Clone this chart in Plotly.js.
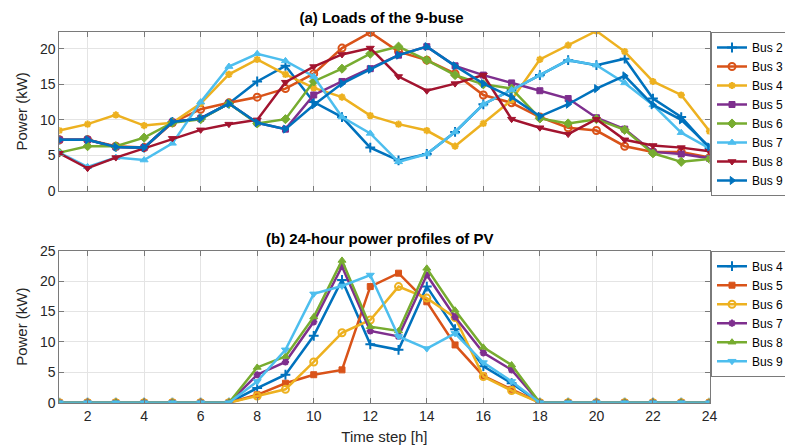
<!DOCTYPE html>
<html>
<head>
<meta charset="utf-8">
<script src="https://cdn.plot.ly/plotly-3.0.1.min.js"></script>
<style>html,body{margin:0;padding:0;background:#fff;overflow:hidden;}#wrap{width:785px;height:448px;overflow:hidden;}#chart{width:850px;height:448px;}</style>
</head>
<body>
<div id="wrap"><div id="chart"></div></div>
<script>
// ---- data ----
const hours = [1,2,3,4,5,6,7,8,9,10,11,12,13,14,15,16,17,18,19,20,21,22,23,24];
const xTickVals = [2,4,6,8,10,12,14,16,18,20,22,24];

const loadNames = ["Bus 2","Bus 3","Bus 4","Bus 5","Bus 6","Bus 7","Bus 8","Bus 9"];
const bus2Load = [7.2,7.2,6.2,6.1,9.7,10.2,12.3,15.4,17.6,12.5,10.4,6.1,4.3,5.2,8.3,12.2,14.2,16.3,18.4,17.7,18.6,13.0,10.4,6.0];
const bus3Load = [7.2,7.2,6.3,6.1,9.6,11.5,12.4,13.2,14.4,16.5,20.1,22.3,19.6,18.4,16.5,13.5,12.4,10.4,8.9,8.5,6.3,5.5,5.5,4.7];
const bus4Load = [8.5,9.4,10.7,9.2,9.6,12.3,16.4,18.5,16.4,14.5,13.2,10.6,9.4,8.5,6.3,9.5,12.8,18.5,20.5,22.5,19.6,15.4,13.5,8.4];
const bus5Load = [7.2,7.2,6.2,6.1,9.7,10.2,12.3,9.6,8.7,13.5,15.4,17.2,19.1,20.3,17.6,16.3,15.2,14.1,13.0,10.3,8.7,5.5,5.2,4.6];
const bus6Load = [5.4,6.3,6.3,7.5,9.6,10.1,12.3,9.5,10.1,15.4,17.2,19.3,20.3,18.4,16.3,15.0,14.4,10.2,9.5,10.1,8.6,5.3,4.1,4.5];
const bus7Load = [5.4,3.4,4.7,4.35,6.7,12.5,17.5,19.3,18.3,16.1,10.4,8.1,4.1,5.2,8.3,12.2,14.2,16.3,18.4,17.7,15.2,12.1,8.2,6.0];
const bus8Load = [5.3,3.2,4.7,6.0,7.4,8.6,9.4,10.0,15.3,17.5,19.2,20.1,16.1,14.1,15.1,16.3,10.1,8.9,8.0,10.1,7.2,6.4,6.1,5.6];
const bus9Load = [7.2,7.2,6.2,6.1,9.7,10.2,12.3,9.6,8.7,12.1,15.1,17.1,19.1,20.3,17.6,15.1,13.2,10.5,12.2,14.4,16.2,12.1,10.0,6.2];

const pvNames = ["Bus 4","Bus 5","Bus 6","Bus 7","Bus 8","Bus 9"];
const pvBus4 = [0,0,0,0,0,0,0,2.4,4.6,11.0,20.2,9.6,8.7,19.1,12.1,6.0,3.2,0,0,0,0,0,0,0];
const pvBus5 = [0,0,0,0,0,0,0,1.3,3.2,4.6,5.4,19.1,21.3,16.6,9.5,4.4,2.2,0,0,0,0,0,0,0];
const pvBus6 = [0,0,0,0,0,0,0,1.1,2.2,6.7,11.5,13.6,19.1,17.2,14.0,4.3,2.0,0,0,0,0,0,0,0];
const pvBus7 = [0,0,0,0,0,0,0,4.6,6.7,13.3,22.4,11.8,10.9,21.0,14.1,8.2,5.4,0,0,0,0,0,0,0];
const pvBus8 = [0,0,0,0,0,0,0,5.8,7.6,14.1,23.4,12.5,11.8,22.1,15.2,9.1,6.2,0,0,0,0,0,0,0];
const pvBus9 = [0,0,0,0,0,0,0,3.5,8.7,17.9,19.2,21.0,10.9,8.9,11.4,6.6,3.5,0,0,0,0,0,0,0];

// ---- styles ----
const C = {blue:"#0072BD", orange:"#D95319", yellow:"#EDB120", purple:"#7E2F8E",
           green:"#77AC30", cyan:"#4DBEEE", red:"#A2142F"};
const FONT = "Liberation Sans, Arial, Helvetica, sans-serif";

function mk(sym, color, size){
  const open = sym.indexOf("open") >= 0;
  return {symbol: sym, size: size, color: color,
          line: {color: color, width: open ? 2 : 1}};
}
function tr(x, y, name, color, sym, size, xa, ya, leg){
  return {x: x, y: y, name: name, type: "scatter", mode: "lines+markers",
          line: {color: color, width: 2.5}, marker: mk(sym, color, size),
          xaxis: xa, yaxis: ya, legend: leg};
}

const loadSeries = [bus2Load,bus3Load,bus4Load,bus5Load,bus6Load,bus7Load,bus8Load,bus9Load];
const loadColors = [C.blue,C.orange,C.yellow,C.purple,C.green,C.cyan,C.red,C.blue];
const loadSyms = ["cross-thin-open","circle-open","asterisk-open","square","diamond","triangle-up","triangle-down","triangle-right"];
const loadSizes = [7,7,6,6,7,7,7,7];

const pvSeries = [pvBus4,pvBus5,pvBus6,pvBus7,pvBus8,pvBus9];
const pvColors = [C.blue,C.orange,C.yellow,C.purple,C.green,C.cyan];
const pvSyms = ["cross-thin-open","square","circle-open","asterisk-open","triangle-up","triangle-down"];
const pvSizes = [7,6,7,6,7,7];

const data = [];
loadSeries.forEach((s,i)=>data.push(tr(hours, s, loadNames[i], loadColors[i], loadSyms[i], loadSizes[i], "x", "y", "legend")));
pvSeries.forEach((s,i)=>data.push(tr(hours, s, pvNames[i], pvColors[i], pvSyms[i], pvSizes[i], "x2", "y2", "legend2")));

const W = 850, H = 448;   // layout is wider than the 785px window; only the legend box's right edge falls outside
const xd = [59.3/W, 709.5/W];
const axBase = {
  showline: true, linecolor: "#7a7a7a", linewidth: 1, mirror: "ticks",
  ticks: "inside", ticklen: 5, tickcolor: "#7a7a7a",
  showgrid: true, gridcolor: "#e4e4e4", gridwidth: 1, zeroline: false,
  tickfont: {family: FONT, size: 14, color: "#262626"}
};

const layout = {
  width: W, height: H,
  margin: {l:0, r:0, t:0, b:0},
  paper_bgcolor: "#fff", plot_bgcolor: "#fff",
  font: {family: FONT, color: "#262626"},
  title: {text: "<b>(a) Loads of the 9-buse</b>", x: 381.5/W, xanchor: "center",
          y: 1 - 18/H, yanchor: "middle", font: {family: FONT, size: 15, color: "#000"}},
  xaxis: Object.assign({}, axBase, {domain: xd, anchor: "y", range: [1,24],
          tickvals: xTickVals, showticklabels: false}),
  yaxis: Object.assign({}, axBase, {domain: [1-191/H, 1-31.7/H], anchor: "x",
          range: [0,22.4], tickvals: [0,5,10,15,20],
          title: {text: "Power (kW)", font: {family: FONT, size: 15, color: "#262626"}, standoff: 8}}),
  xaxis2: Object.assign({}, axBase, {domain: xd, anchor: "y2", range: [1,24],
          tickvals: xTickVals,
          title: {text: "Time step [h]", font: {family: FONT, size: 15, color: "#262626"}, standoff: 8}}),
  yaxis2: Object.assign({}, axBase, {domain: [1-402.7/H, 1-250.7/H], anchor: "x2",
          range: [0,25], tickvals: [0,5,10,15,20,25],
          title: {text: "Power (kW)", font: {family: FONT, size: 15, color: "#262626"}, standoff: 8}}),
  legend: {x: 711/W, xanchor: "left", y: 1-32/H, yanchor: "top",
           bordercolor: "#7a7a7a", borderwidth: 1, bgcolor: "#fff",
           font: {family: FONT, size: 12, color: "#000"}, tracegroupgap: 0},
  legend2: {x: 711/W, xanchor: "left", y: 1-250.7/H, yanchor: "top",
           bordercolor: "#7a7a7a", borderwidth: 1, bgcolor: "#fff",
           font: {family: FONT, size: 12, color: "#000"}, tracegroupgap: 0},
  annotations: [{text: "<b>(b) 24-hour power profiles of PV</b>", xref: "paper", yref: "paper",
                 x: 380/W, y: 1-238/H, xanchor: "center", yanchor: "middle", showarrow: false,
                 font: {family: FONT, size: 15, color: "#000"}}],
  showlegend: true
};

Plotly.newPlot("chart", data, layout, {displayModeBar: false, staticPlot: true});
</script>
</body>
</html>
